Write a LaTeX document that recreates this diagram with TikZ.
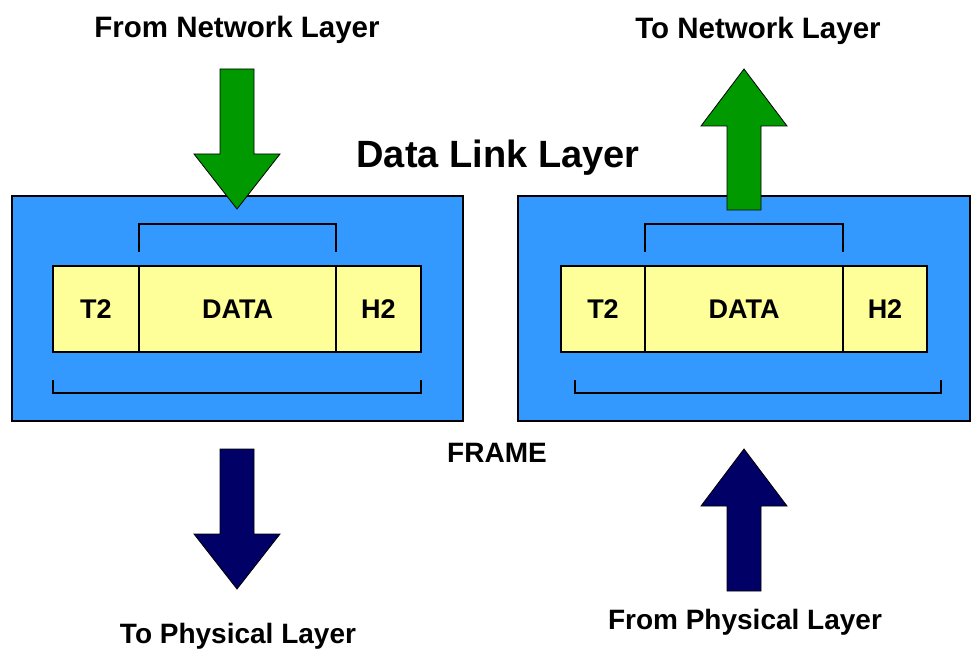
\documentclass[tikz,border=0pt]{standalone}
\usepackage{fontspec}
\setmainfont{Liberation Sans}
\usetikzlibrary{positioning}
\definecolor{layerblue}{HTML}{3399FF}
\definecolor{fieldyellow}{HTML}{FFFF99}
\definecolor{netgreen}{HTML}{009900}
\definecolor{physnavy}{HTML}{000066}

\begin{document}
\begin{tikzpicture}[x=1pt,y=-1pt,
  field/.style={draw, line width=2pt, fill=fieldyellow, outer sep=0pt, inner sep=0pt, minimum height=86pt, font=\fontsize{27}{32}\selectfont\bfseries},
  label/.style={font=\fontsize{28}{32}\selectfont\bfseries}]
\useasboundingbox (0,0) rectangle (980,660);

% the two layer boxes
\draw[line width=2pt,fill=layerblue] (12,196) rectangle (463,421);
\draw[line width=2pt,fill=layerblue] (518,196) rectangle (970,421);

% frame fields, sender side
\node[field, minimum width=86pt] (lt) at (96,309) {T2};
\node[field, minimum width=197pt, right = 0pt of lt] (ldata) {DATA};
\node[field, minimum width=85pt, right = 0pt of ldata] (lh) {H2};
% frame fields, receiver side
\node[field, minimum width=84pt] (rt) at (603,309) {T2};
\node[field, minimum width=198pt, right = 0pt of rt] (rdata) {DATA};
\node[field, minimum width=84pt, right = 0pt of rdata] (rh) {H2};

% brackets
\draw[line width=2.5pt] ([yshift=14pt]ldata.north west) -- ++(0,-28) -| ([yshift=14pt]ldata.north east);
\draw[line width=2.5pt] ([yshift=14pt]rdata.north west) -- ++(0,-28) -| ([yshift=14pt]rdata.north east);
\draw[line width=2.5pt] ([yshift=-28pt]lt.south west) -- ++(0,13) -| ([yshift=-28pt]lh.south east);
\draw[line width=2.5pt] ([xshift=14pt,yshift=-28pt]rt.south west) -- ++(0,13) -| ([xshift=14pt,yshift=-28pt]rh.south east);

% block arrows
\draw[thick,fill=netgreen] (220,69) -- (254,69) -- (254,154) -- (280,154) -- (237,209) -- (194,154) -- (220,154) -- cycle;
\draw[thick,fill=netgreen] (727,210) -- (761,210) -- (761,126) -- (787,126) -- (744,69) -- (701,126) -- (727,126) -- cycle;
\draw[thick,fill=physnavy] (220,449) -- (254,449) -- (254,534) -- (280,534) -- (237,589) -- (194,534) -- (220,534) -- cycle;
\draw[thick,fill=physnavy] (727,591) -- (761,591) -- (761,506) -- (787,506) -- (744,449) -- (701,506) -- (727,506) -- cycle;

% texts
\node[font=\fontsize{29.5}{34}\selectfont\bfseries] (fromnet) at (237,30) {From Network Layer};
\node[font=\fontsize{29.5}{34}\selectfont\bfseries] (tonet) at (758,31) {To Network Layer};
\node[font=\fontsize{38}{44}\selectfont\bfseries] (title) at (498,158) {Data Link Layer};
\node[font=\fontsize{28}{32}\selectfont\bfseries] (frame) at (497,453) {FRAME};
\node[label] (tophys) at (238,636) {To Physical Layer};
\node[label] (fromphys) at (745,622) {From Physical Layer};
\end{tikzpicture}
\end{document}
